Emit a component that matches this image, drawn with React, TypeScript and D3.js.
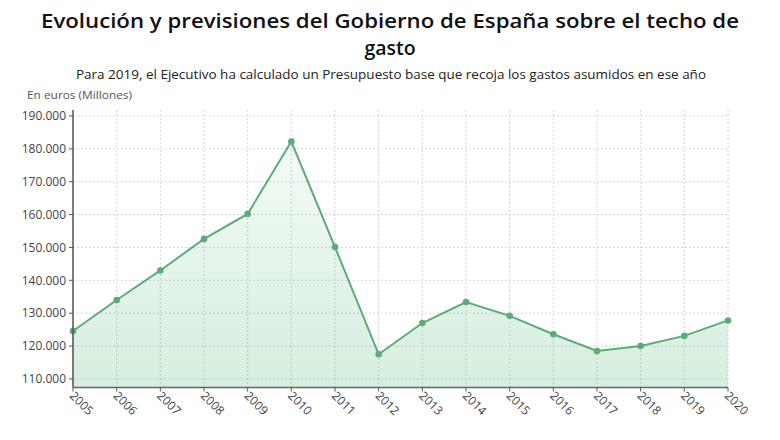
import React from "react";
import * as d3 from "d3";

const years = ["2005","2006","2007","2008","2009","2010","2011","2012","2013","2014","2015","2016","2017","2018","2019","2020"];
const values = [124600, 134000, 143000, 152600, 160200, 182200, 150100, 117500, 127000, 133400, 129200, 123600, 118500, 120000, 123100, 127800];
const yTicks = [110000, 120000, 130000, 140000, 150000, 160000, 170000, 180000, 190000];

const title1 = "Evolución y previsiones del Gobierno de España sobre el techo de";
const title2 = "gasto";
const subtitle = "Para 2019, el Ejecutivo ha calculado un Presupuesto base que recoja los gastos asumidos en ese año";
const unitLabel = "En euros (Millones)";

export default function App() {
  const W = 780, H = 440;
  const left = 73, right = 728, top = 110, bottom = 387.5;
  const x = d3.scalePoint<string>().domain(years).range([left, right]);
  const y = d3.scaleLinear().domain([107400, 191800]).range([bottom, top]);
  const fmt = (v: number) => d3.format(",")(v).replace(/,/g, ".");
  const pts = years.map((yr, i) => [x(yr)!, y(values[i])] as [number, number]);
  const line = d3.line<[number, number]>()(pts)!;
  const area = d3.area<[number, number]>().x(d => d[0]).y0(bottom).y1(d => d[1])(pts)!;
  const font = "'Open Sans', sans-serif";
  const lineColor = "#5cac78";
  return (
    <svg width={W} height={H} style={{ position: "absolute", left: 0, top: 0, background: "#fff" }} fontFamily={font}>
      <defs>
        <linearGradient id="fillg" x1="0" y1="0" x2="0" y2="1">
          <stop offset="0%" stopColor="#6cc48a" stopOpacity={0.08} />
          <stop offset="100%" stopColor="#6cc48a" stopOpacity={0.28} />
        </linearGradient>
      </defs>
      <text x={390} y={28} textAnchor="middle" fontSize={19.5} fontWeight={600} fill="#111" textLength={698} lengthAdjust="spacingAndGlyphs">{title1}</text>
      <text x={390} y={55} textAnchor="middle" fontSize={19.5} fontWeight={600} fill="#111">{title2}</text>
      <text x={391} y={79} textAnchor="middle" fontSize={13} fill="#222" textLength={630} lengthAdjust="spacingAndGlyphs">{subtitle}</text>
      <text x={27} y={99} fontSize={11} fill="#555" textLength={105} lengthAdjust="spacingAndGlyphs">{unitLabel}</text>
      {/* grid */}
      {yTicks.map(t => (
        <line key={"h" + t} x1={left} x2={right} y1={y(t)} y2={y(t)} stroke="#d4d4d4" strokeDasharray="2,2" strokeWidth={1} />
      ))}
      {years.map(yr => (
        <line key={"v" + yr} x1={x(yr)} x2={x(yr)} y1={top} y2={bottom} stroke="#d4d4d4" strokeDasharray="2,2" strokeWidth={1} />
      ))}
      <path d={area} fill="url(#fillg)" />
      <path d={line} fill="none" stroke={lineColor} strokeWidth={2} />
      {pts.map((p, i) => (
        <circle key={i} cx={p[0]} cy={p[1]} r={3.3} fill={lineColor} />
      ))}
      {/* axes */}
      <line x1={left} x2={left} y1={top} y2={bottom} stroke="#555" strokeWidth={1.5} />
      <line x1={left} x2={right} y1={bottom} y2={bottom} stroke="#666" strokeWidth={1.5} />
      {yTicks.map(t => (
        <g key={"yt" + t}>
          <line x1={left - 4} x2={left} y1={y(t)} y2={y(t)} stroke="#555" />
          <text x={left - 7} y={y(t)} dy="0.35em" textAnchor="end" fontSize={12} fill="#444">{fmt(t)}</text>
        </g>
      ))}
      {years.map(yr => (
        <g key={"xt" + yr}>
          <line x1={x(yr)} x2={x(yr)} y1={bottom} y2={bottom + 4} stroke="#555" />
          <text transform={`translate(${x(yr)! - 4},${bottom + 9}) rotate(45)`} fontSize={12} fill="#444">{yr}</text>
        </g>
      ))}
    </svg>
  );
}
